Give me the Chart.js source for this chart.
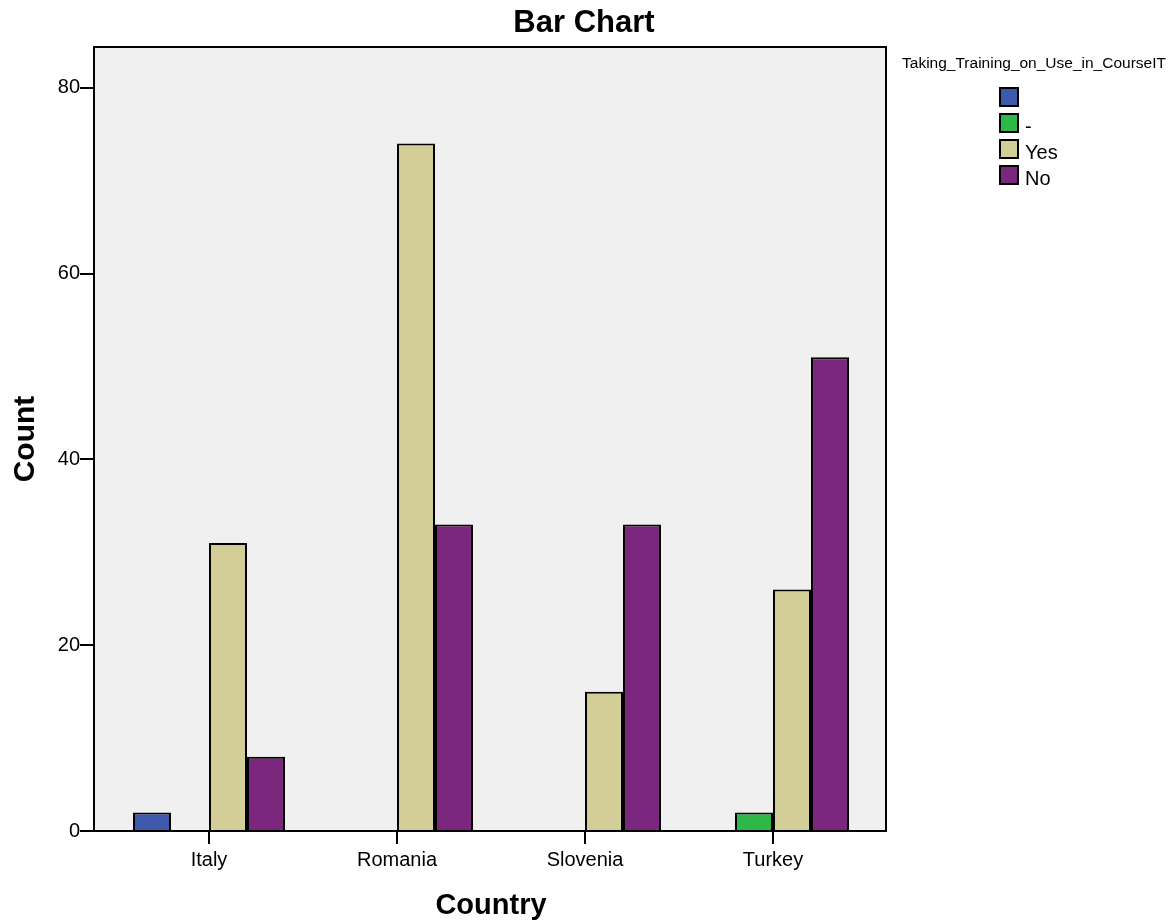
<!DOCTYPE html>
<html>
<head>
<meta charset="utf-8">
<script src="https://cdn.jsdelivr.net/npm/chart.js@4.4.1/dist/chart.umd.min.js"></script>
<style>
  body { margin: 0; background: #fff; }
  #wrap { width: 1174px; height: 924px; }
</style>
</head>
<body>
<div id="wrap"><canvas id="barChart" width="1174" height="924"></canvas></div>
<script>
// categories and series
const countries = ['Italy', 'Romania', 'Slovenia', 'Turkey'];
const seriesLabels = ['', '-', 'Yes', 'No'];
const blankCounts = [2, null, null, null];
const dashCounts = [null, null, null, 2];
const yesCounts = [31, 74, 15, 26];
const noCounts = [8, 33, 33, 51];
const seriesColors = ['#3E58AC', '#2EB848', '#D3CE97', '#7B277D'];
const yTicks = [0, 20, 40, 60, 80];
const chartTitle = 'Bar Chart';
const legendTitle = 'Taking_Training_on_Use_in_CourseIT';

const font = "'Liberation Sans', Arial, sans-serif";

// gray plot frame, y tick marks, title and legend (SPSS-ish look)
const framePlugin = {
    id: 'frame',
    beforeDatasetsDraw(chart) {
        const ctx = chart.ctx;
        const a = chart.chartArea;
        const left = a.left - 21, right = a.right + 19;
        ctx.save();
        ctx.fillStyle = '#F0F0F0';
        ctx.fillRect(left, a.top, right - left, a.bottom - a.top);
        ctx.restore();
    },
    afterDatasetsDraw(chart) {
        const ctx = chart.ctx;
        const a = chart.chartArea;
        const y = chart.scales.y;
        const left = a.left - 21, right = a.right + 19;
        ctx.save();
        ctx.strokeStyle = '#000';
        ctx.lineWidth = 2;
        ctx.strokeRect(left, a.top, right - left, a.bottom - a.top);
        yTicks.forEach(v => {
            const py = Math.round(y.getPixelForValue(v));
            ctx.beginPath();
            ctx.moveTo(left - 14, py);
            ctx.lineTo(left, py);
            ctx.stroke();
        });

        // title
        ctx.fillStyle = '#000';
        ctx.font = 'bold 31px ' + font;
        ctx.textAlign = 'center';
        ctx.textBaseline = 'alphabetic';
        ctx.fillText(chartTitle, 584, 32);

        // legend
        ctx.font = '15.5px ' + font;
        ctx.textBaseline = 'middle';
        ctx.fillText(legendTitle, 1034, 64);
        ctx.textAlign = 'left';
        ctx.textBaseline = 'alphabetic';
        ctx.font = '20px ' + font;
        chart.data.datasets.forEach((ds, i) => {
            const by = 88 + i * 26;
            ctx.fillStyle = ds.backgroundColor;
            ctx.fillRect(1000, by, 18, 18);
            ctx.lineWidth = 2;
            ctx.strokeStyle = '#000';
            ctx.strokeRect(1000, by, 18, 18);
            ctx.fillStyle = '#000';
            ctx.fillText(ds.label, 1025, by + 19);
        });
        ctx.restore();
    }
};

function makeSet(label, data, color) {
    return {
        label: label,
        data: data,
        backgroundColor: color,
        borderColor: '#000',
        borderWidth: 2,
        categoryPercentage: 152 / 188,
        barPercentage: 1.0
    };
}

new Chart(document.getElementById('barChart').getContext('2d'), {
    type: 'bar',
    data: {
        labels: countries,
        datasets: [
            makeSet(seriesLabels[0], blankCounts, seriesColors[0]),
            makeSet(seriesLabels[1], dashCounts, seriesColors[1]),
            makeSet(seriesLabels[2], yesCounts, seriesColors[2]),
            makeSet(seriesLabels[3], noCounts, seriesColors[3])
        ]
    },
    plugins: [framePlugin],
    options: {
        responsive: false,
        animation: false,
        layout: { padding: { left: 0, right: 307, top: 45, bottom: 0 } },
        plugins: {
            legend: { display: false },
            tooltip: { enabled: false },
            title: { display: false }
        },
        scales: {
            x: {
                offset: true,
                border: { display: false },
                grid: { offset: false, drawOnChartArea: false, drawTicks: true, tickLength: 13, color: '#000', lineWidth: 2 },
                ticks: { color: '#000', font: { family: font, size: 20 }, padding: 4 },
                title: {
                    display: true,
                    text: 'Country',
                    color: '#000',
                    font: { family: font, size: 29, weight: 'bold', lineHeight: 1.2 },
                    padding: { top: 10, bottom: 1 }
                },
                afterFit(scale) { scale.height = 93; }
            },
            y: {
                min: 0,
                max: 84.4,
                border: { display: false },
                grid: { display: false, drawTicks: false, tickLength: 0 },
                ticks: {
                    stepSize: 20,
                    includeBounds: false,
                    color: '#000',
                    font: { family: font, size: 20 },
                    padding: 35
                },
                title: {
                    display: true,
                    text: 'Count',
                    color: '#000',
                    font: { family: font, size: 30, weight: 'bold', lineHeight: 1.2 },
                    padding: { top: 8, bottom: 0 }
                },
                afterFit(scale) { scale.width = 115; }
            }
        }
    }
});
</script>
</body>
</html>
